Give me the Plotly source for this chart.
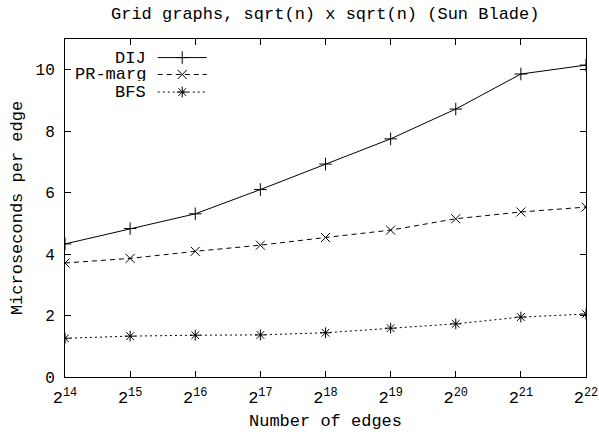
import plotly.graph_objects as go

# Measured timings per edge for grid graphs
exponents = [14, 15, 16, 17, 18, 19, 20, 21, 22]
edges = [2 ** k for k in exponents]
tick_labels = [f"2<sup>{k}</sup>" for k in exponents]

dij = [4.33, 4.83, 5.31, 6.10, 6.93, 7.75, 8.72, 9.86, 10.15]
pr_marg = [3.71, 3.86, 4.09, 4.29, 4.54, 4.78, 5.15, 5.37, 5.53]
bfs = [1.26, 1.33, 1.36, 1.37, 1.44, 1.59, 1.73, 1.95, 2.05]

series_names = ["DIJ", "PR-marg", "BFS"]
series_values = [dij, pr_marg, bfs]
dashes = ["solid", "5px,4px", "2px,3px"]
symbols = ["cross-thin", "x-thin", "asterisk"]

FONT = "Liberation Mono, Courier New, monospace"

fig = go.Figure()

for name, vals, dash, sym in zip(series_names, series_values, dashes, symbols):
    fig.add_trace(go.Scatter(
        x=edges, y=vals, mode="lines+markers", name=name,
        line=dict(color="black", width=1, dash=dash),
        marker=dict(symbol=sym, size=9, color="black",
                    line=dict(color="black", width=1)),
        showlegend=False,
    ))

# Key: right-aligned labels with line samples to their right
key_rows = [0.945, 0.895, 0.843]
for name, dash, sym, ky in zip(series_names, dashes, symbols, key_rows):
    fig.add_trace(go.Scatter(
        x=[0.178, 0.272], y=[ky, ky], mode="lines",
        line=dict(color="black", width=1, dash=dash),
        xaxis="x2", yaxis="y2", showlegend=False, hoverinfo="skip",
    ))
    fig.add_trace(go.Scatter(
        x=[0.225], y=[ky], mode="markers",
        marker=dict(symbol=sym, size=9, color="black",
                    line=dict(color="black", width=1)),
        xaxis="x2", yaxis="y2", showlegend=False, hoverinfo="skip",
    ))
    fig.add_annotation(
        x=0.158, y=ky, xref="x2", yref="y2", text=name, showarrow=False,
        xanchor="right", yanchor="middle", height=14, borderpad=0,
        font=dict(family=FONT, size=17, color="black"),
    )

fig.update_layout(
    width=599, height=434,
    margin=dict(l=65, r=13, t=39, b=57),
    paper_bgcolor="white", plot_bgcolor="white",
    font=dict(family=FONT, size=16, color="black"),
    title=dict(text="Grid graphs, sqrt(n) x sqrt(n) (Sun Blade)",
               x=0.543, xanchor="center", y=0.97, yanchor="middle",
               font=dict(family=FONT, size=17, color="black")),
    xaxis=dict(
        type="log", range=[14 * 0.30103, 22 * 0.30103],
        tickvals=edges, ticktext=tick_labels, automargin=False,
        ticks="inside", ticklen=6, tickcolor="black",
        showline=True, linecolor="black", linewidth=1, mirror="ticks",
        showgrid=False, zeroline=False, ticklabelstandoff=5,
        title=dict(text="Number of edges", standoff=6,
                   font=dict(family=FONT, size=17)),
        tickfont=dict(family=FONT, size=17),
    ),
    yaxis=dict(
        range=[0, 11], tickvals=[0, 2, 4, 6, 8, 10], automargin=False,
        ticks="inside", ticklen=6, tickcolor="black",
        showline=True, linecolor="black", linewidth=1, mirror="ticks",
        showgrid=False, zeroline=False, ticklabelstandoff=6,
        title=dict(text="Microseconds per edge", standoff=8,
                   font=dict(family=FONT, size=17)),
        tickfont=dict(family=FONT, size=16),
    ),
    xaxis2=dict(range=[0, 1], overlaying="x", visible=False, fixedrange=True),
    yaxis2=dict(range=[0, 1], overlaying="y", visible=False, fixedrange=True),
)

fig.write_html("out.html")
